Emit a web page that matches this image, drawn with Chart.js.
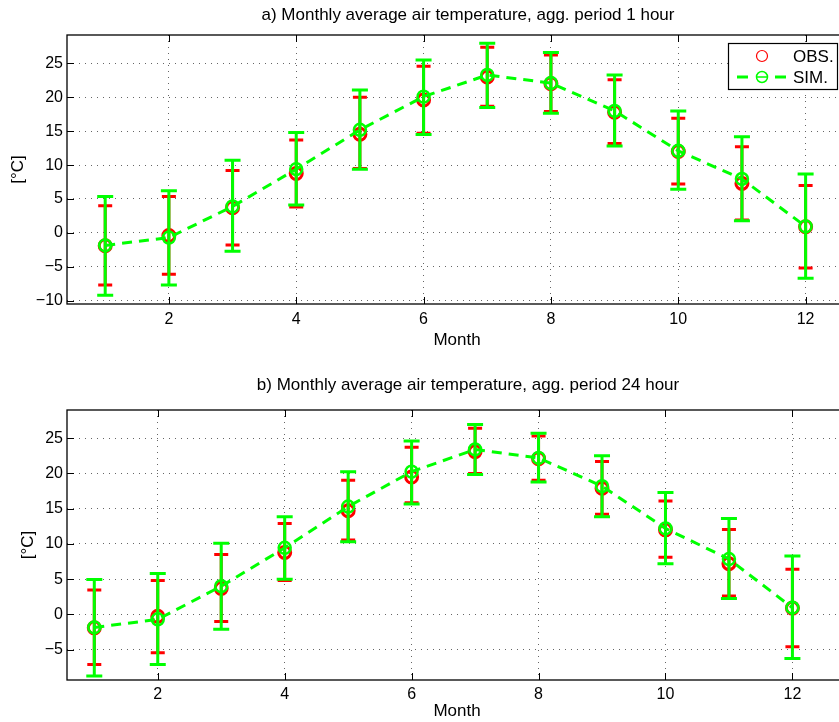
<!DOCTYPE html>
<html>
<head>
<meta charset="utf-8">
<script src="https://cdn.jsdelivr.net/npm/chart.js@4.4.1/dist/chart.umd.min.js"></script>
<style>
  html, body { margin: 0; background: #fff; overflow: hidden; }
  canvas { display: block; }
</style>
</head>
<body>
<canvas id="chartA" width="934" height="370"></canvas>
<canvas id="chartB" width="934" height="352"></canvas>
<script>
const months = [1, 2, 3, 4, 5, 6, 7, 8, 9, 10, 11, 12];
const xTicks = [2, 4, 6, 8, 10, 12];
const yTicksA = [-10, -5, 0, 5, 10, 15, 20, 25];
const yTicksB = [-5, 0, 5, 10, 15, 20, 25];

// a) agg. period 1 hour
const obsA = [-1.9, -0.4, 3.7, 8.75, 14.55, 19.6, 23.0, 22.0, 17.8, 12.0, 7.3, 0.9];
const obsALo = [-7.7, -6.1, -1.8, 3.8, 9.5, 14.7, 18.7, 17.9, 13.2, 7.2, 1.9, -5.2];
const obsAHi = [4.0, 5.35, 9.2, 13.7, 20.0, 24.6, 27.4, 26.25, 22.6, 16.9, 12.7, 7.0];
const simA = [-1.85, -0.7, 3.9, 9.4, 15.2, 20.1, 23.3, 22.1, 18.0, 12.1, 7.95, 0.95];
const simALo = [-9.2, -7.7, -2.7, 4.1, 9.4, 14.5, 18.5, 17.65, 12.8, 6.45, 1.8, -6.7];
const simAHi = [5.35, 6.2, 10.7, 14.8, 21.1, 25.5, 28.0, 26.6, 23.3, 18.0, 14.2, 8.7];

// b) agg. period 24 hour
const obsB = [-1.9, -0.25, 3.7, 8.8, 14.7, 19.5, 23.1, 22.1, 17.9, 12.0, 7.2, 0.9];
const obsBLo = [-7.1, -5.45, -1.0, 4.8, 10.55, 15.85, 20.0, 19.05, 14.2, 8.1, 2.6, -4.6];
const obsBHi = [3.45, 4.8, 8.5, 12.9, 19.05, 23.7, 26.4, 25.3, 21.7, 16.1, 12.05, 6.4];
const simB = [-1.85, -0.7, 4.0, 9.45, 15.3, 20.25, 23.4, 22.2, 18.2, 12.2, 7.85, 0.95];
const simBLo = [-8.75, -7.1, -2.1, 5.0, 10.3, 15.65, 19.85, 18.8, 13.85, 7.2, 2.25, -6.25];
const simBHi = [4.95, 5.8, 10.1, 13.85, 20.25, 24.6, 26.95, 25.7, 22.5, 17.3, 13.6, 8.3];

const FONT = "'Liberation Sans', Arial, Helvetica, sans-serif";
const font = { family: FONT, size: 16, weight: "normal" };
const bigFont = { family: FONT, size: 17, weight: "normal" };
const RED = "#ff0000";
const GREEN = "#00ff00";

const pts = (vals) => months.map((m, i) => ({ x: m, y: vals[i] }));
const fmt = (v) => (v < 0 ? "\u2212" + Math.abs(v) : String(v));

function drawBars(chart, lo, hi, color, cap) {
  const { ctx, scales: { x, y } } = chart;
  ctx.save();
  ctx.strokeStyle = color;
  ctx.lineWidth = 3;
  months.forEach((m, i) => {
    const px = x.getPixelForValue(m);
    const top = y.getPixelForValue(hi[i]);
    const bot = y.getPixelForValue(lo[i]);
    ctx.beginPath();
    ctx.moveTo(px, top);
    ctx.lineTo(px, bot);
    ctx.moveTo(px - cap / 2, top);
    ctx.lineTo(px + cap / 2, top);
    ctx.moveTo(px - cap / 2, bot);
    ctx.lineTo(px + cap / 2, bot);
    ctx.stroke();
  });
  ctx.restore();
}

function errorPlugin(obsLo, obsHi, simLo, simHi) {
  return {
    id: "errorBars",
    afterDatasetDraw(chart, args) {
      if (args.index === 0) drawBars(chart, obsLo, obsHi, RED, 14);
    },
    beforeDatasetDraw(chart, args) {
      if (args.index === 1) drawBars(chart, simLo, simHi, GREEN, 16);
    },
  };
}

// title text, centred a bit right of the plot like the matlab figure
function titlePlugin(text) {
  return {
    id: "plotTitle",
    afterDraw(chart) {
      const { ctx } = chart;
      ctx.save();
      ctx.fillStyle = "#000";
      ctx.font = "17px " + FONT;
      ctx.textAlign = "center";
      ctx.textBaseline = "middle";
      ctx.fillText(text, 468, 15);
      ctx.restore();
    },
  };
}

// axes box with inward tick marks
const boxPlugin = {
  id: "box",
  afterDraw(chart) {
    const { ctx, chartArea: a, scales: { x, y } } = chart;
    ctx.save();
    ctx.strokeStyle = "#000";
    ctx.lineWidth = 1.3;
    ctx.strokeRect(a.left, a.top, a.right - a.left, a.bottom - a.top);
    ctx.lineWidth = 1;
    ctx.beginPath();
    x.ticks.forEach((t) => {
      const px = Math.round(x.getPixelForValue(t.value)) + 0.5;
      ctx.moveTo(px, a.bottom); ctx.lineTo(px, a.bottom - 7);
      ctx.moveTo(px, a.top); ctx.lineTo(px, a.top + 7);
    });
    y.ticks.forEach((t) => {
      const py = Math.round(y.getPixelForValue(t.value)) + 0.5;
      ctx.moveTo(a.left, py); ctx.lineTo(a.left + 7, py);
      ctx.moveTo(a.right, py); ctx.lineTo(a.right - 7, py);
    });
    ctx.stroke();
    ctx.restore();
  },
};

const legendPlugin = {
  id: "legendBox",
  afterDraw(chart) {
    const { ctx } = chart;
    ctx.save();
    ctx.fillStyle = "#fff";
    ctx.fillRect(728, 43, 109, 46);
    ctx.strokeStyle = "#000";
    ctx.lineWidth = 1.2;
    ctx.strokeRect(728.5, 43.5, 109, 46);
    // OBS.
    ctx.strokeStyle = RED;
    ctx.lineWidth = 1.2;
    ctx.beginPath();
    ctx.arc(762, 56, 5.5, 0, Math.PI * 2);
    ctx.stroke();
    // SIM.
    ctx.strokeStyle = GREEN;
    ctx.lineWidth = 3;
    ctx.setLineDash([11, 8]);
    ctx.beginPath();
    ctx.moveTo(737, 77);
    ctx.lineTo(788, 77);
    ctx.stroke();
    ctx.setLineDash([]);
    ctx.lineWidth = 1.5;
    ctx.fillStyle = "#fff";
    ctx.beginPath();
    ctx.arc(762, 77, 5.5, 0, Math.PI * 2);
    ctx.fill();
    ctx.stroke();
    ctx.beginPath();
    ctx.moveTo(756.5, 77);
    ctx.lineTo(767.5, 77);
    ctx.stroke();
    ctx.fillStyle = "#000";
    ctx.font = "17px " + FONT;
    ctx.textBaseline = "middle";
    ctx.textAlign = "left";
    ctx.fillText("OBS.", 793, 57);
    ctx.fillText("SIM.", 793, 78);
    ctx.restore();
  },
};

function makeChart(id, c) {
  return new Chart(document.getElementById(id), {
    type: "line",
    data: {
      datasets: [
        {
          label: "OBS.",
          data: pts(c.obs),
          showLine: false,
          borderColor: RED,
          backgroundColor: "rgba(0,0,0,0)",
          pointRadius: 6,
          pointBorderWidth: 3,
          pointBorderColor: RED,
          pointBackgroundColor: "rgba(0,0,0,0)",
          order: 2,
        },
        {
          label: "SIM.",
          data: pts(c.sim),
          borderColor: GREEN,
          borderWidth: 3,
          borderDash: [10, 7],
          backgroundColor: "rgba(0,0,0,0)",
          pointRadius: 6,
          pointBorderWidth: 2.5,
          pointBorderColor: GREEN,
          pointBackgroundColor: "rgba(0,0,0,0)",
          tension: 0,
          fill: false,
          order: 1,
        },
      ],
    },
    options: {
      responsive: false,
      animation: false,
      events: [],
      layout: { padding: { left: c.padLeft, right: 87, top: c.padTop, bottom: c.padBottom } },
      plugins: {
        legend: { display: false },
        tooltip: { enabled: false },
        title: { display: false },
      },
      scales: {
        x: {
          type: "linear",
          min: c.xMin,
          max: c.xMax,
          afterBuildTicks: (s) => { s.ticks = xTicks.map((v) => ({ value: v })); },
          afterFit: (s) => { s.height = c.xAxisH; },
          ticks: { color: "#000", font: font, padding: c.xTickPad, maxRotation: 0 },
          grid: { color: "#666", lineWidth: 1, drawTicks: false },
          border: { display: false, dash: [1, 5] },
          title: { display: true, text: "Month", color: "#000", font: bigFont, padding: { top: 0, bottom: 0 } },
        },
        y: {
          type: "linear",
          min: c.yMin,
          max: c.yMax,
          afterBuildTicks: (s) => { s.ticks = c.yTicks.map((v) => ({ value: v })); },
          afterFit: (s) => { s.width = 67 - c.padLeft; },
          ticks: { color: "#000", font: font, padding: 4, callback: (v) => fmt(v) },
          grid: { color: "#666", lineWidth: 1, drawTicks: false },
          border: { display: false, dash: [1, 5] },
          title: { display: true, text: "[°C]", color: "#000", font: bigFont, padding: { top: 4, bottom: 4 } },
        },
      },
    },
    plugins: c.plugins,
  });
}

const chartA = makeChart("chartA", {
  obs: obsA, sim: simA, yTicks: yTicksA,
  xMin: 0.4, xMax: 12.65, yMin: -10.5, yMax: 29.2,
  padLeft: 3.8, padTop: 35, padBottom: 19.8, xAxisH: 46.2, xTickPad: 6.4,
  plugins: [
    errorPlugin(obsALo, obsAHi, simALo, simAHi), boxPlugin, legendPlugin,
    titlePlugin("a) Monthly average air temperature, agg. period 1 hour"),
  ],
});

const chartB = makeChart("chartB", {
  obs: obsB, sim: simB, yTicks: yTicksB,
  xMin: 0.57, xMax: 12.86, yMin: -9.3, yMax: 29.0,
  padLeft: 13.8, padTop: 40, padBottom: 0, xAxisH: 42, xTickPad: 5.4,
  plugins: [
    errorPlugin(obsBLo, obsBHi, simBLo, simBHi), boxPlugin,
    titlePlugin("b) Monthly average air temperature, agg. period 24 hour"),
  ],
});
</script>
</body>
</html>
